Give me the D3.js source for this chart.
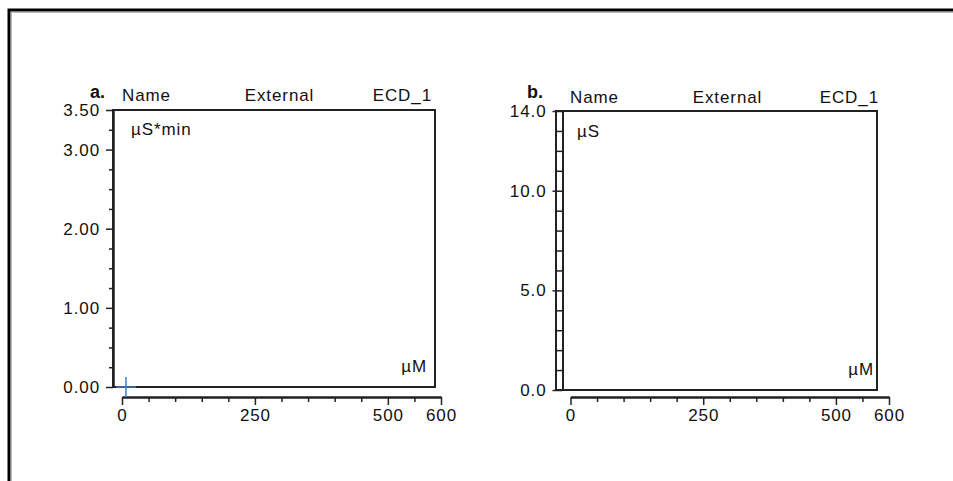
<!DOCTYPE html>
<html>
<head>
<meta charset="utf-8">
<script src="https://cdn.jsdelivr.net/npm/d3@7"></script>
<style>
  html, body { margin: 0; padding: 0; background: #fff; }
  svg { display: block; }
  text { font-family: "Liberation Sans", Arial, sans-serif; fill: #111; }
</style>
</head>
<body>
<svg id="chart" width="953" height="481"></svg>
<script>
// Calibration plots: a. peak area vs concentration, b. peak height vs concentration
const panelTitles = ["a.", "b."];
const headerLabels = ["Name", "External", "ECD_1"];
const yUnits = ["\u00b5S*min", "\u00b5S"];
const xUnit = "\u00b5M";

const xDomain = [0, 600];
const xMajorTicks = [0, 250, 500, 600];
const xMinorTicks = [50, 100, 150, 200, 300, 350, 400, 450, 550];

const yDomainA = [0, 3.5];
const yMajorTicksA = [0, 1, 2, 3, 3.5];
const yMinorTicksA = [0.25, 0.5, 0.75, 1.25, 1.5, 1.75, 2.25, 2.5, 2.75, 3.25];

const yDomainB = [0, 14];
const yMajorTicksB = [0, 5, 10, 14];
const yMinorTicksB = [1, 2, 3, 4, 6, 7, 8, 9, 11, 12, 13];

// calibration points (concentration in µM, response)
const pointsA = [{ conc: 7.5, value: 0 }];
const pointsB = [];

const svg = d3.select("#chart");
const FONT = "17px";
const SPACING = "0.9px";

// page frame
svg.append("path")
  .attr("d", "M9,481V10H953")
  .attr("fill", "none").attr("stroke", "#000").attr("stroke-width", 3);
svg.append("path")
  .attr("d", "M11.5,481V12.5H953")
  .attr("fill", "none").attr("stroke", "#bbb").attr("stroke-width", 1);

const layouts = [
  { box: [113, 110, 435, 387], yAxisX: 113, yMajor: 7, yMinor: 4, extraLine: null,
    xAxisY: 397, xRange: [122, 441], header: { y: 101, name: 122, ext: 279.5, ecd: 432 },
    title: [90, 98], unit: [131, 135], xu: [427, 372],
    yDomain: yDomainA, yMajorT: yMajorTicksA, yMinorT: yMinorTicksA, fmt: d3.format(".2f"), pts: pointsA },
  { box: [556, 111, 877, 390], yAxisX: 562.5, yMajor: 10, yMinor: 6, extraLine: 556,
    xAxisY: 397, xRange: [570.5, 889], header: { y: 103, name: 570, ext: 727.5, ecd: 879 },
    title: [527, 98], unit: [577, 137], xu: [874, 375],
    yDomain: yDomainB, yMajorT: yMajorTicksB, yMinorT: yMinorTicksB, fmt: d3.format(".1f"), pts: pointsB }
];

function styleAxis(g) {
  g.select(".domain").attr("stroke", "#222").attr("stroke-width", 2);
  g.selectAll(".tick line").attr("stroke", "#222").attr("stroke-width", 1.5);
  g.selectAll(".tick text")
    .attr("fill", "#111")
    .style("font-size", FONT)
    .style("letter-spacing", SPACING)
    .style("font-family", '"Liberation Sans", Arial, sans-serif');
}

layouts.forEach((L, i) => {
  const g = svg.append("g");
  const [bx0, by0, bx1, by1] = L.box;

  const x = d3.scaleLinear().domain(xDomain).range(L.xRange);
  const y = d3.scaleLinear().domain(L.yDomain).range([by1, by0]);

  // plot frame
  g.append("rect")
    .attr("x", bx0).attr("y", by0)
    .attr("width", bx1 - bx0).attr("height", by1 - by0)
    .attr("fill", "none").attr("stroke", "#222").attr("stroke-width", 2);
  if (L.extraLine !== null) {
    g.append("line")
      .attr("x1", L.extraLine).attr("x2", L.extraLine)
      .attr("y1", by0).attr("y2", by1)
      .attr("stroke", "#222").attr("stroke-width", 2);
  }

  // y axis: minor then major
  g.append("g").attr("transform", `translate(${L.yAxisX},0)`)
    .call(d3.axisLeft(y).tickValues(L.yMinorT).tickSize(L.yMinor).tickSizeOuter(0).tickFormat(""))
    .call(styleAxis);
  g.append("g").attr("transform", `translate(${L.yAxisX},0)`)
    .call(d3.axisLeft(y).tickValues(L.yMajorT).tickSize(L.yMajor).tickSizeOuter(0).tickPadding(6).tickFormat(L.fmt))
    .call(styleAxis);

  // x axis: minor then major
  g.append("g").attr("transform", `translate(0,${L.xAxisY})`)
    .call(d3.axisBottom(x).tickValues(xMinorTicks).tickSize(5).tickSizeOuter(0).tickFormat(""))
    .call(styleAxis);
  g.append("g").attr("transform", `translate(0,${L.xAxisY})`)
    .call(d3.axisBottom(x).tickValues(xMajorTicks).tickSize(8).tickSizeOuter(0).tickPadding(4).tickFormat(d3.format("d")))
    .call(styleAxis);

  // header row
  const hdr = [
    { t: headerLabels[0], x: L.header.name, a: "start" },
    { t: headerLabels[1], x: L.header.ext, a: "middle" },
    { t: headerLabels[2], x: L.header.ecd, a: "end" }
  ];
  g.selectAll(".hdr").data(hdr).join("text")
    .attr("x", d => d.x).attr("y", L.header.y)
    .attr("text-anchor", d => d.a)
    .style("font-size", FONT).style("letter-spacing", SPACING)
    .text(d => d.t);

  // panel title
  g.append("text")
    .attr("x", L.title[0]).attr("y", L.title[1])
    .style("font-size", "18px").style("font-weight", "bold")
    .text(panelTitles[i]);

  // unit labels
  g.append("text")
    .attr("x", L.unit[0]).attr("y", L.unit[1])
    .style("font-size", FONT).style("letter-spacing", SPACING)
    .text(yUnits[i]);
  g.append("text")
    .attr("x", L.xu[0]).attr("y", L.xu[1])
    .attr("text-anchor", "end")
    .style("font-size", FONT).style("letter-spacing", SPACING)
    .text(xUnit);

  // calibration points as cross markers
  g.selectAll(".pt").data(L.pts).join("path")
    .attr("transform", d => `translate(${x(d.conc)},${y(d.value)})`)
    .attr("d", "M-10,0H10M0,-10V10")
    .attr("fill", "none").attr("stroke", "#3f7fc6").attr("stroke-width", 1.5);
});
</script>
</body>
</html>
